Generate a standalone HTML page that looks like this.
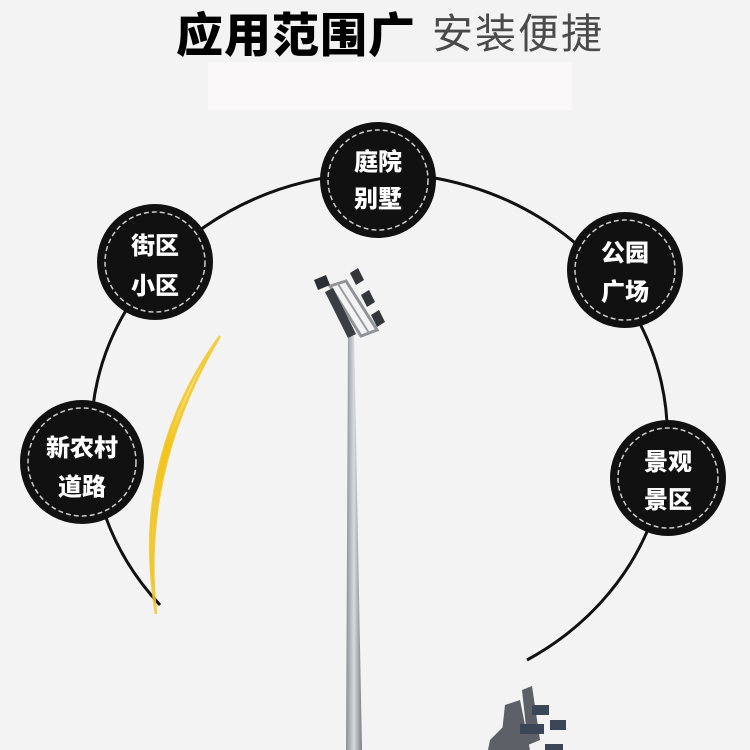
<!DOCTYPE html>
<html><head><meta charset="utf-8"><style>
html,body{margin:0;padding:0;background:#f3f3f3;}
svg{display:block}
</style></head><body>
<svg width="750" height="750" viewBox="0 0 750 750" xmlns="http://www.w3.org/2000/svg">
<defs>
<linearGradient id="pole" x1="0" x2="1">
<stop offset="0" stop-color="#8a8e94"/><stop offset="0.5" stop-color="#d8dadd"/><stop offset="1" stop-color="#7b7f85"/>
</linearGradient>
<linearGradient id="yel" x1="0" y1="0" x2="0" y2="1">
<stop offset="0" stop-color="#f7d84a" stop-opacity="0.2"/><stop offset="0.4" stop-color="#f2c318"/><stop offset="1" stop-color="#e9b800" stop-opacity="0.5"/>
</linearGradient>
</defs>
<rect width="750" height="750" fill="#f3f3f3"/>
<rect x="208" y="62" width="364" height="48" fill="#faf8f8"/>
<text x="176" y="52" font-family="'Noto Sans CJK SC',sans-serif" font-weight="900" font-size="47" fill="#000" letter-spacing="1" textLength="240" lengthAdjust="spacingAndGlyphs">应用范围广</text>
<text x="432" y="48" font-family="'Noto Sans CJK SC',sans-serif" font-weight="400" font-size="41" fill="#4a4a4a" letter-spacing="2">安装便捷</text>

<path d="M160,605 A288,262 0 1 1 527,660" fill="none" stroke="#111" stroke-width="3"/>

<path d="M220,336 Q130,460 156,614 Q140,470 220,336 Z" fill="url(#yel)" stroke="#f2c318" stroke-width="2.5" stroke-opacity="0.8"/>

<!-- pole -->
<polygon points="348,332 354,332 362,750 346,750" fill="url(#pole)"/>
<!-- lamp head -->
<polygon points="330,286 346,281 377,330 361,336" fill="none" stroke="#8f9398" stroke-width="3"/>
<line x1="338" y1="284" x2="369" y2="333" stroke="#9a9ea3" stroke-width="2"/>
<polygon points="314,280 326,275 330,285 318,290" fill="#2b2e33"/>
<polygon points="325,292 333,288 356,334 348,338" fill="#3a3d42"/>
<g fill="#33363b">
<polygon points="350,273 358,268 364,280 356,285"/>
<polygon points="361,295 369,290 375,302 367,307"/>
<polygon points="371,315 379,310 385,322 377,327"/>
</g>
<!-- bottom lamps -->
<g fill="#5d6066">
<polygon points="505,705 520,700 530,750 500,750"/>
<polygon points="522,690 532,686 540,740 528,745"/>
<polygon points="490,740 505,725 515,750 488,750"/>
<rect x="532" y="705" width="17" height="10" fill="#3b4656"/>
<rect x="520" y="724" width="24" height="10" fill="#3b4656"/>
<rect x="550" y="720" width="16" height="10" fill="#3b4656"/>
<rect x="545" y="744" width="18" height="6" fill="#3b4656"/>
</g>

<g font-family="'Noto Sans CJK SC',sans-serif" font-weight="900" font-size="24" fill="#fff" text-anchor="middle">
<g><circle cx="378" cy="180" r="58" fill="#111"/><circle cx="378" cy="180" r="50" fill="none" stroke="#ccc" stroke-width="1.5" stroke-dasharray="5 3"/>
<text x="378" y="170">庭院</text><text x="378" y="207">别墅</text></g>
<g><circle cx="155" cy="262" r="58" fill="#111"/><circle cx="155" cy="262" r="50" fill="none" stroke="#ccc" stroke-width="1.5" stroke-dasharray="5 3"/>
<text x="155" y="254">街区</text><text x="155" y="294">小区</text></g>
<g><circle cx="625" cy="270" r="58" fill="#111"/><circle cx="625" cy="270" r="50" fill="none" stroke="#ccc" stroke-width="1.5" stroke-dasharray="5 3"/>
<text x="625" y="261">公园</text><text x="625" y="300">广场</text></g>
<g><circle cx="82" cy="462" r="62" fill="#111"/><circle cx="82" cy="462" r="54" fill="none" stroke="#ccc" stroke-width="1.5" stroke-dasharray="5 3"/>
<text x="82" y="456">新农村</text><text x="82" y="495">道路</text></g>
<g><circle cx="668" cy="478" r="58" fill="#111"/><circle cx="668" cy="478" r="50" fill="none" stroke="#ccc" stroke-width="1.5" stroke-dasharray="5 3"/>
<text x="668" y="470">景观</text><text x="668" y="508">景区</text></g>
</g>
</svg>
</body></html>
